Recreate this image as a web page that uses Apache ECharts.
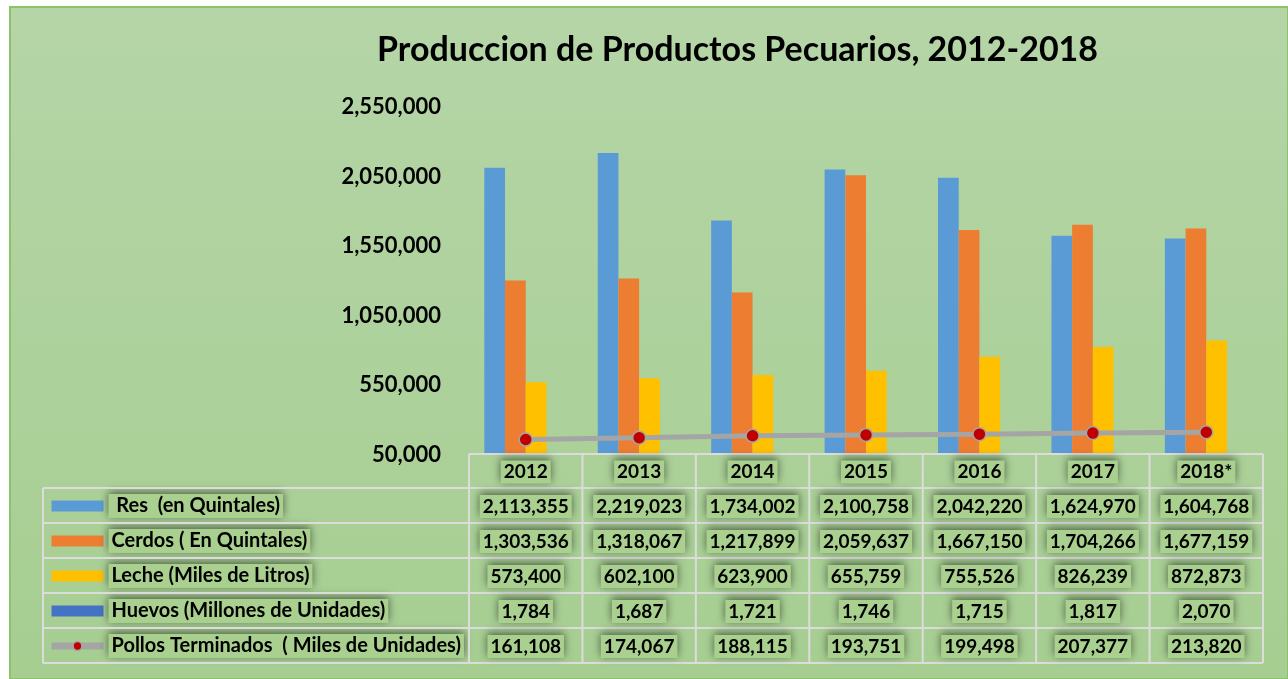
<!DOCTYPE html>
<html>
<head>
<meta charset="utf-8">
<script src="https://cdn.jsdelivr.net/npm/echarts@6/dist/echarts.min.js"></script>
<style>
  html, body { margin: 0; padding: 0; background: #fff; }
  #chart { width: 1288px; height: 679px; }
</style>
</head>
<body>
<div id="chart"></div>
<script>
const years = ['2012', '2013', '2014', '2015', '2016', '2017', '2018*']
const res = [2113355, 2219023, 1734002, 2100758, 2042220, 1624970, 1604768]
const cerdos = [1303536, 1318067, 1217899, 2059637, 1667150, 1704266, 1677159]
const leche = [573400, 602100, 623900, 655759, 755526, 826239, 872873]
const huevos = [1784, 1687, 1721, 1746, 1715, 1817, 2070]
const pollos = [161108, 174067, 188115, 193751, 199498, 207377, 213820]
const names = [' Res  (en Quintales)', 'Cerdos ( En Quintales)', 'Leche (Miles de Litros)',
  'Huevos (Millones de Unidades)', 'Pollos Terminados  ( Miles de Unidades)']
const yMin = 50000
const yMax = 2550000
const yStep = 500000

const colors = ['#5b9bd5', '#ed7d31', '#ffc000', '#4472c4', '#a5a5a5']
const font = 'Lato'
const W = 1288, H = 679
const grid = { left: 469, right: 25, top: 107, bottom: 224 }

// text box look: green box with a dark glow around it
const boxStyle = {
  backgroundColor: '#a9d08e',
  padding: [2, 3],
  shadowBlur: 8,
  shadowColor: 'rgba(0,0,0,0.55)',
  shadowOffsetY: -2
}

const chart = echarts.init(document.getElementById('chart'))

const barSeries = [res, cerdos, leche, huevos].map((d, i) => ({
  name: names[i],
  type: 'bar',
  data: d,
  barGap: 0,
  barCategoryGap: '27%',
  itemStyle: { color: colors[i] }
}))

chart.setOption({
  animation: false,
  backgroundColor: '#fff',
  color: colors,
  title: {
    text: 'Produccion de Productos Pecuarios, 2012-2018',
    left: 372,
    top: 28,
    textStyle: { fontFamily: font, fontWeight: 'bold', fontSize: 34, color: '#000' }
  },
  legend: {
    orient: 'vertical',
    left: 48,
    top: 494,
    height: 186,
    padding: 0,
    itemWidth: 52,
    itemHeight: 11,
    itemGap: 11,
    selectedMode: false,
    data: names.map((n, i) => i < 4 ? { name: n, icon: 'rect' } : {
      name: n,
      lineStyle: { color: '#a5a5a5', width: 7 },
      itemStyle: { color: '#c00000', borderColor: '#a5a5a5', borderWidth: 1.5 }
    }),
    textStyle: Object.assign({
      fontFamily: font, fontWeight: 'bold', fontSize: 20, color: '#000', lineHeight: 20
    }, boxStyle)
  },
  grid: grid,
  xAxis: {
    type: 'category',
    data: years,
    axisLine: { show: false },
    axisTick: { show: false },
    axisLabel: { show: false }
  },
  yAxis: {
    type: 'value',
    min: yMin,
    max: yMax,
    interval: yStep,
    splitLine: { show: false },
    axisLine: { show: false },
    axisTick: { show: false },
    axisLabel: {
      margin: 28,
      fontFamily: font,
      fontWeight: 'bold',
      fontSize: 22,
      color: '#000',
      formatter: v => v.toLocaleString('en-US')
    }
  },
  series: barSeries.concat([{
    name: names[4],
    type: 'line',
    data: pollos,
    symbol: 'circle',
    symbolSize: 13,
    lineStyle: { color: '#a5a5a5', width: 5 },
    itemStyle: { color: '#c00000', borderColor: '#a5a5a5', borderWidth: 1.5 }
  }])
})

// data table under the plot, laid out from the category axis
const rows = [res, cerdos, leche, huevos, pollos]
const gLeft = grid.left, gRight = W - grid.right
const colW = (gRight - gLeft) / years.length
const tableTop = H - grid.bottom - 1
const headH = 34, rowH = 35
const lineStyle = { stroke: '#dcdcdc', lineWidth: 2 }
const g = []

// frame + green background
g.push({
  type: 'rect', z: -10, silent: true,
  shape: { x: 10, y: 7, width: W - 10, height: H - 7 },
  style: {
    fill: new echarts.graphic.LinearGradient(0, 0, 0, 1, [
      { offset: 0, color: '#b5d5a7' }, { offset: 1, color: '#a6ce91' }
    ]),
    stroke: '#8cc26c', lineWidth: 2
  }
})

// horizontal lines
g.push({ type: 'line', z: 5, shape: { x1: gLeft, y1: tableTop, x2: gRight, y2: tableTop }, style: lineStyle })
for (let r = 0; r <= rows.length; r++) {
  const y = tableTop + headH + r * rowH
  g.push({ type: 'line', z: 5, shape: { x1: 43, y1: y, x2: gRight, y2: y }, style: lineStyle })
}
// vertical lines
const tableBottom = tableTop + headH + rows.length * rowH
g.push({ type: 'line', z: 5, shape: { x1: 43, y1: tableTop + headH, x2: 43, y2: tableBottom }, style: lineStyle })
for (let c = 0; c <= years.length; c++) {
  const x = gLeft + c * colW
  g.push({ type: 'line', z: 5, shape: { x1: x, y1: tableTop, x2: x, y2: tableBottom }, style: lineStyle })
}

function cellText(txt, x, y) {
  return {
    type: 'text', z: 6, silent: true,
    style: Object.assign({
      text: txt, x: x, y: y,
      align: 'center', verticalAlign: 'middle',
      font: 'bold 19px ' + font, fill: '#000'
    }, boxStyle)
  }
}

years.forEach((yr, i) => {
  const cx = chart.convertToPixel({ xAxisIndex: 0 }, i)
  g.push(cellText(yr, cx, tableTop + headH / 2 + 1))
  rows.forEach((d, r) => {
    g.push(cellText(d[i].toLocaleString('en-US'), cx, tableTop + headH + r * rowH + rowH / 2 + 1))
  })
})

chart.setOption({ graphic: g })
</script>
</body>
</html>
